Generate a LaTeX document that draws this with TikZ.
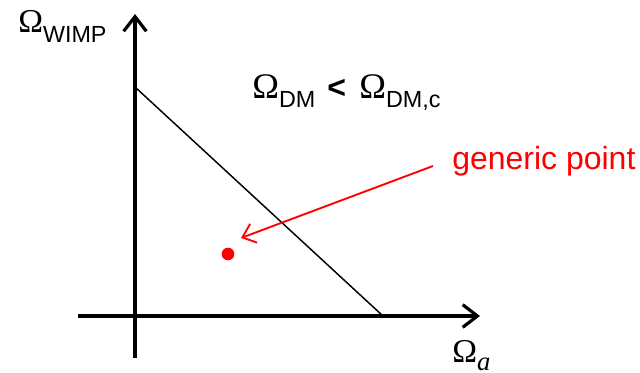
\documentclass[tikz,border=0pt]{standalone}
\usepackage{fontspec}
\setmainfont{Liberation Sans}
\newfontfamily\omfont{Liberation Serif}
\usetikzlibrary{arrows.meta}
\newcommand{\bigom}[1]{{\omfont\fontsize{#1}{#1}\selectfont Ω}}
\newcommand{\subtxt}[2]{\raisebox{-#1}{\fontsize{17.5}{20}\selectfont #2}}
\tikzset{
  axis/.style={line width=3pt, -{Straight Barb[length=11pt, width=17pt, line width=2.4pt]}},
  boundary/.style={line width=1.1pt},
  pointer/.style={red, line width=1.4pt, -{Straight Barb[length=9pt, width=15pt, line width=1.4pt]}},
  label/.style={inner sep=0pt, anchor=base west},
  dot/.style={circle, fill=red, inner sep=0pt, minimum size=9.5pt},
}
\begin{document}
\begin{tikzpicture}[x=0.75pt, y=-0.75pt]
  \useasboundingbox (0,0) rectangle (640,373);
  % axes
  \coordinate (O1) at (135,358);
  \coordinate (Ytip) at (135,14);
  \coordinate (O2) at (78,316);
  \coordinate (Xtip) at (480,316);
  \draw[axis] (O1) -- (Ytip);
  \draw[axis] (O2) -- (Xtip);
  \node[label] (ylab) at (18,33) {\bigom{25}\subtxt{7.5pt}{WIMP}};
  \node[label] (xlab) at (452,363) {\bigom{25}\raisebox{-6pt}{\omfont\itshape\fontsize{20}{20}\selectfont a}};
  % constraint line
  \coordinate (top) at (135,87);
  \coordinate (bot) at (383,316);
  \draw[boundary] (top) -- (bot);
  \node[label] (cond) at (252,99) {\bigom{27}\subtxt{6.4pt}{DM}\hspace{9pt}{\fontsize{24}{24}\selectfont\bfseries <}\hspace{10pt}\bigom{27}\subtxt{6.4pt}{DM,c}};
  % generic point
  \node[dot] (pt) at (228,254) {};
  \node[label, red] (gp) at (452,170) {\fontsize{24}{28}\selectfont generic point};
  \coordinate (arrstart) at (433,166);
  \coordinate (arrtip) at (241,238);
  \draw[pointer] (arrstart) -- (arrtip);
\end{tikzpicture}
\end{document}
